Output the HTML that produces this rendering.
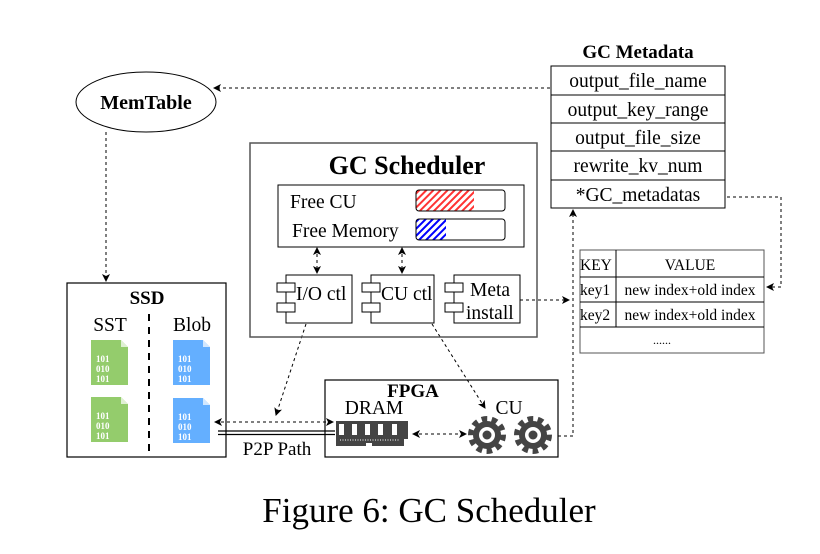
<!DOCTYPE html>
<html><head><meta charset="utf-8"><style>
body{margin:0;background:#fff;width:820px;height:549px;overflow:hidden}
text{font-family:"Liberation Serif",serif;fill:#000}
</style></head><body>
<svg width="820" height="549" viewBox="0 0 820 549" xmlns="http://www.w3.org/2000/svg">
<defs>
<marker id="a" markerWidth="8" markerHeight="8" refX="7" refY="4" orient="auto-start-reverse" markerUnits="userSpaceOnUse"><path d="M0,0 L8,4 L0,8 L2,4z" fill="#000"/></marker>
<pattern id="hr" width="5" height="5" patternUnits="userSpaceOnUse" patternTransform="rotate(45)"><rect width="2" height="5" fill="#f33"/></pattern>
<pattern id="hb" width="5" height="5" patternUnits="userSpaceOnUse" patternTransform="rotate(45)"><rect width="2" height="5" fill="#00f"/></pattern>
<g id="gear"><circle r="16" fill="none" stroke="#444" stroke-width="6" stroke-dasharray="5.5 4.5"/><circle r="14" fill="#444"/><circle r="8" fill="#fff"/><circle r="4.5" fill="#444"/></g>
<g id="doc"><path d="M0,0 H30 L37,7 V45 H0z"/><path d="M30,0 V7 H37z" fill="#fff" opacity=".7"/></g>
</defs>
<g stroke="#000" stroke-width="1" fill="none" stroke-dasharray="3 3">
<path d="M550,88 H214" marker-end="url(#a)"/>
<path d="M106,132 V281" marker-end="url(#a)"/>
<path d="M727,197 H781 V287 H767" marker-end="url(#a)"/>
<path d="M520,300 H569" marker-end="url(#a)"/>
<path d="M558,436 H573 V210" marker-end="url(#a)"/>
<path d="M317,248 V273" marker-start="url(#a)" marker-end="url(#a)"/>
<path d="M402,248 V273" marker-start="url(#a)" marker-end="url(#a)"/>
<path d="M306,324 L276,415" marker-end="url(#a)"/>
<path d="M432,324 L485,408" marker-end="url(#a)"/>
<path d="M215,422 H333" marker-start="url(#a)" marker-end="url(#a)"/>
<path d="M413,434 H466" marker-start="url(#a)" marker-end="url(#a)"/>
</g>
<ellipse cx="146" cy="102" rx="70" ry="30" fill="none" stroke="#000"/>
<text x="146" y="109" font-size="20" font-weight="bold" text-anchor="middle">MemTable</text>
<text x="638" y="58" font-size="19" font-weight="bold" text-anchor="middle">GC Metadata</text>
<rect x="551" y="66" width="174" height="142" fill="none" stroke="#000"/>
<g stroke="#000"><path d="M551,95H725M551,123H725M551,151H725M551,180H725"/></g>
<g font-size="19.5" text-anchor="middle"><text x="638" y="87">output_file_name</text><text x="638" y="116">output_key_range</text><text x="638" y="144">output_file_size</text><text x="638" y="172">rewrite_kv_num</text><text x="638" y="201">*GC_metadatas</text></g>
<rect x="580" y="250" width="184" height="103" fill="none" stroke="#555"/>
<g stroke="#000"><path d="M580,277H764M580,302H764M580,327H764M616,250V327"/></g>
<g font-size="15.5"><text x="580" y="270">KEY</text><text x="580" y="295">key1</text><text x="580" y="320">key2</text></g>
<g font-size="15.5" text-anchor="middle"><text x="690" y="270">VALUE</text><text x="690" y="295">new index+old index</text><text x="690" y="320">new index+old index</text><text x="662" y="344" font-size="12">......</text></g>
<rect x="250" y="143" width="287" height="194" fill="none" stroke="#555" stroke-width="1.5"/>
<text x="407" y="174" font-size="26" font-weight="bold" text-anchor="middle">GC Scheduler</text>
<rect x="278" y="185" width="246" height="62" fill="none" stroke="#000"/>
<text x="290" y="208" font-size="19.5">Free CU</text>
<text x="292" y="237" font-size="19.5">Free Memory</text>
<rect x="416" y="190" width="58" height="21" fill="url(#hr)"/>
<rect x="416" y="190" width="89" height="21" rx="3" fill="none" stroke="#000"/>
<rect x="416" y="219" width="30" height="21" fill="url(#hb)"/>
<rect x="416" y="219" width="89" height="21" rx="3" fill="none" stroke="#000"/>
<g fill="#fff" stroke="#000">
<rect x="286" y="275" width="66" height="48"/><rect x="277" y="283" width="18" height="9"/><rect x="277" y="303" width="18" height="9"/>
<rect x="371" y="275" width="63" height="48"/><rect x="362" y="283" width="18" height="9"/><rect x="362" y="303" width="18" height="9"/>
<rect x="454" y="275" width="66" height="48"/><rect x="445" y="283" width="18" height="9"/><rect x="445" y="303" width="18" height="9"/>
</g>
<g font-size="19.5"><text x="296" y="300">I/O ctl</text><text x="381" y="300">CU ctl</text><text x="470" y="296">Meta</text><text x="466" y="319">install</text></g>
<rect x="67" y="283" width="159" height="174" fill="none" stroke="#000" stroke-width="1.2"/>
<text x="147" y="304" font-size="19" font-weight="bold" text-anchor="middle">SSD</text>
<text x="110" y="331" font-size="19.5" text-anchor="middle">SST</text>
<text x="192" y="331" font-size="19.5" text-anchor="middle">Blob</text>
<path d="M149,314V453" stroke="#000" stroke-width="2" stroke-dasharray="7 6"/>
<g fill="#94cc6c"><use href="#doc" x="91" y="340"/><use href="#doc" x="91" y="397"/></g>
<g fill="#64afff"><use href="#doc" x="173" y="340"/><use href="#doc" x="173" y="398"/></g>
<g font-family="Liberation Mono" font-size="9" font-weight="bold">
<text x="96" y="362" style="fill:#fff">101</text><text x="96" y="372" style="fill:#fff">010</text><text x="96" y="382" style="fill:#fff">101</text>
<text x="96" y="419" style="fill:#fff">101</text><text x="96" y="429" style="fill:#fff">010</text><text x="96" y="439" style="fill:#fff">101</text>
<text x="178" y="362" style="fill:#fff">101</text><text x="178" y="372" style="fill:#fff">010</text><text x="178" y="382" style="fill:#fff">101</text>
<text x="178" y="420" style="fill:#fff">101</text><text x="178" y="430" style="fill:#fff">010</text><text x="178" y="440" style="fill:#fff">101</text>
</g>
<path d="M218,431H335M218,434.5H335" stroke="#000" stroke-width="1.3"/>
<text x="277" y="455" font-size="19" text-anchor="middle">P2P Path</text>
<rect x="325" y="380" width="233" height="77" fill="none" stroke="#000" stroke-width="1.2"/>
<text x="413" y="397" font-size="19" font-weight="bold" text-anchor="middle">FPGA</text>
<text x="374" y="414" font-size="19.5" text-anchor="middle">DRAM</text>
<text x="509" y="414" font-size="19.5" text-anchor="middle">CU</text>
<g>
<path d="M336,421H408V439H404V446H372V443H366V446H336z" fill="#444"/>
<g fill="#fff"><rect x="339" y="424" width="5" height="11"/><rect x="352" y="424" width="5" height="11"/><rect x="365" y="424" width="5" height="11"/><rect x="378" y="424" width="5" height="11"/><rect x="392" y="424" width="5" height="11"/></g>
<path d="M340,440H400" stroke="#fff" stroke-dasharray="1 1.5"/>
</g>
<use href="#gear" x="487" y="435"/>
<use href="#gear" x="533" y="435"/>
<text x="429" y="522" font-size="35" text-anchor="middle">Figure 6: GC Scheduler</text>
</svg>
</body></html>
